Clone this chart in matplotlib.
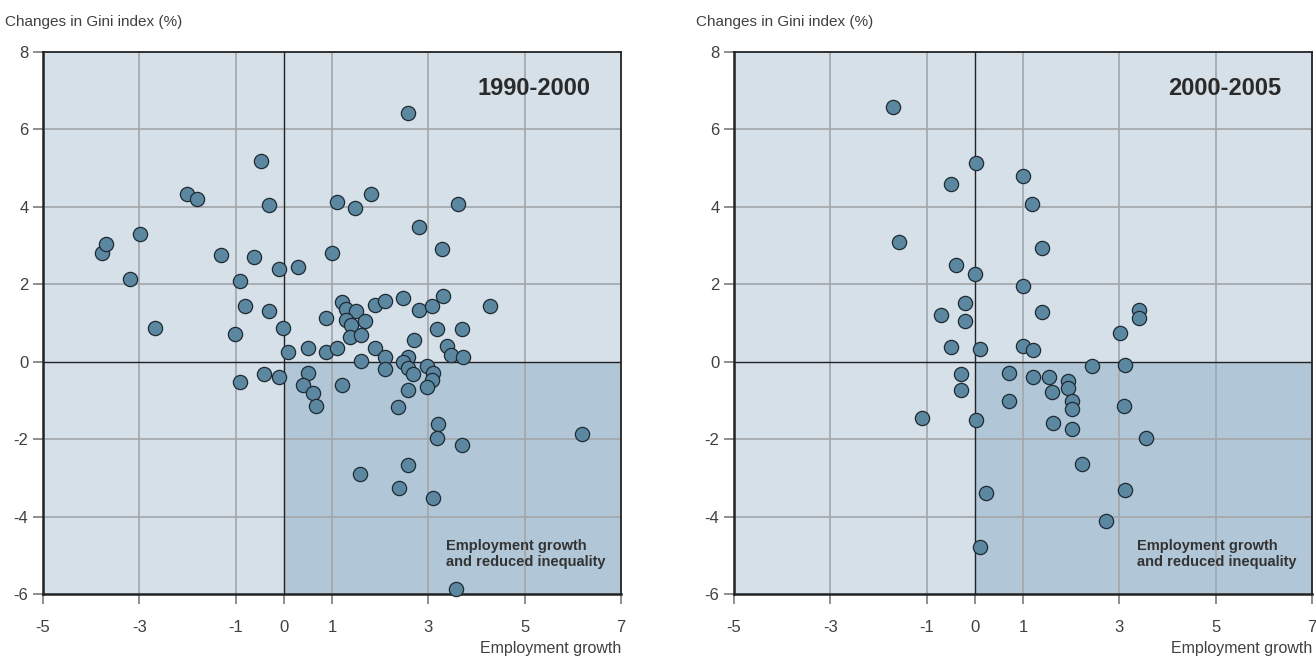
import matplotlib
matplotlib.use("Agg")
import matplotlib.pyplot as plt
from matplotlib.patches import Rectangle

plt.rcParams['font.family'] = ['Liberation Sans', 'DejaVu Sans']
plt.rcParams['axes.unicode_minus'] = False

# 1990-2000 panel: employment growth vs change in Gini index
emp_1990 = [-3.78, -3.69, -2.98, -3.19, -2.67, -2.02, -1.80, -1.30, -0.90, -0.81,
            -1.01, -0.47, -0.30, -0.61, -0.10, 0.30, -0.31, -0.01, 0.99, 0.88,
            2.58, 1.10, 1.48, 1.80, 3.61, 2.81, 3.28, 1.20, 1.30, 1.50,
            1.89, 2.09, 2.47, 2.81, 3.08, 3.30, 4.29, 1.30, 1.40, 1.69,
            1.37, 1.60, 3.19, 3.69, 2.70, 0.09, 0.50, 0.88, 1.11, 1.89,
            2.11, 2.57, 3.38, 3.48, 3.71, 1.60, 2.48, 2.98, 2.58, 3.10,
            2.69, 2.10, 0.51, -0.90, -0.41, -0.09, 0.40, 0.61, 0.67, 1.20,
            3.08, 2.98, 2.58, 2.38, 3.21, 3.19, 3.69, 6.18, 2.57, 1.59,
            2.39, 3.10, 3.57]
gini_1990 = [2.80, 3.05, 3.31, 2.13, 0.86, 4.34, 4.20, 2.76, 2.08, 1.43,
             0.71, 5.19, 4.04, 2.70, 2.39, 2.45, 1.30, 0.88, 2.80, 1.14,
             6.42, 4.12, 3.97, 4.32, 4.07, 3.49, 2.90, 1.55, 1.37, 1.32,
             1.46, 1.58, 1.65, 1.33, 1.43, 1.71, 1.43, 1.09, 0.95, 1.06,
             0.64, 0.69, 0.84, 0.85, 0.55, 0.24, 0.35, 0.25, 0.36, 0.35,
             0.12, 0.12, 0.41, 0.17, 0.12, 0.02, -0.02, -0.10, -0.15, -0.30,
             -0.31, -0.20, -0.28, -0.52, -0.33, -0.39, -0.59, -0.82, -1.14, -0.61,
             -0.48, -0.65, -0.72, -1.18, -1.61, -1.97, -2.16, -1.87, -2.68, -2.91,
             -3.25, -3.51, -5.86]

# 2000-2005 panel
emp_2000 = [-1.70, 0.03, -0.50, -1.58, -0.40, 0.00, -0.20, -0.71, -0.20, -0.49,
            0.10, -0.28, -0.28, 0.71, 0.71, 1.00, 1.00, 1.18, 1.39, 1.40,
            3.40, 3.40, 3.02, 1.00, 1.21, 2.43, 3.12, 1.21, 1.53, 1.93,
            1.93, 1.61, 2.01, 2.01, 3.09, -1.09, 0.02, 1.63, 2.01, 3.55,
            2.23, 0.23, 3.11, 2.72, 0.10]
gini_2000 = [6.58, 5.13, 4.59, 3.09, 2.51, 2.27, 1.51, 1.21, 1.06, 0.37,
             0.34, -0.31, -0.74, -0.28, -1.02, 4.79, 1.96, 4.07, 2.93, 1.29,
             1.33, 1.13, 0.75, 0.40, 0.31, -0.11, -0.09, -0.40, -0.40, -0.50,
             -0.67, -0.78, -1.01, -1.22, -1.15, -1.46, -1.51, -1.58, -1.74, -1.96,
             -2.63, -3.39, -3.32, -4.11, -4.78]

x_ticks = [-5, -3, -1, 0, 1, 3, 5, 7]
y_ticks = [-6, -4, -2, 0, 2, 4, 6, 8]
x_grid = [-3, -1, 1, 3, 5]
y_grid = [-4, -2, 2, 4, 6]

panels = [('1990-2000', emp_1990, gini_1990), ('2000-2005', emp_2000, gini_2000)]

fig = plt.figure(figsize=(13.16, 6.59), dpi=100)
lefts = [43 / 1316, 734 / 1316]

light_bg = '#d5e0e9'
dark_bg = '#b1c6d6'
dot_col = '#5b87a1'
grid_col = '#a2a6aa'
text_col = '#404040'

for (title, xs, ys), left in zip(panels, lefts):
    ax = fig.add_axes([left, 65 / 659, 578 / 1316, 542 / 659])
    ax.set_xlim(-5, 7)
    ax.set_ylim(-6, 8)
    ax.set_facecolor(light_bg)
    ax.add_patch(Rectangle((0, -6), 7, 6, facecolor=dark_bg, edgecolor='none', zorder=0.5))
    for gx in x_grid:
        ax.axvline(gx, color=grid_col, lw=1.2, zorder=1)
    for gy in y_grid:
        ax.axhline(gy, color=grid_col, lw=1.2, zorder=1)
    ax.axvline(0, color='#222222', lw=1.0, zorder=1.5)
    ax.axhline(0, color='#222222', lw=1.0, zorder=1.5)

    ax.scatter(xs, ys, s=105, color=dot_col, edgecolor='#1f2a33', linewidth=0.9, zorder=3,
               clip_on=False)

    for name, sp in ax.spines.items():
        sp.set_color('#222222')
        sp.set_linewidth(1.8 if name in ('left', 'bottom') else 1.3)
    ax.set_xticks(x_ticks)
    ax.set_yticks(y_ticks)
    ax.tick_params(axis='both', colors='#707070', labelcolor=text_col, labelsize=12,
                   length=7, width=1.1)
    ax.tick_params(axis='x', pad=12)

    ax.text(6.36, 7.07, title, ha='right', va='center', fontsize=17, fontweight='bold',
            color='#2a2a2a')
    ax.text(3.37, -4.97, 'Employment growth\nand reduced inequality', ha='left', va='center',
            fontsize=10.5, fontweight='bold', color='#333333', linespacing=1.25)

    # axis captions placed in figure coordinates
    fig.text(left - 38 / 1316, 1 - 22 / 659, 'Changes in Gini index (%)', ha='left',
             va='center', fontsize=11, color=text_col)
    fig.text(left + 578 / 1316, 1 - 648 / 659, 'Employment growth', ha='right',
             va='center', fontsize=11.5, color=text_col)

fig.savefig('out.png', dpi=100, facecolor='white')
